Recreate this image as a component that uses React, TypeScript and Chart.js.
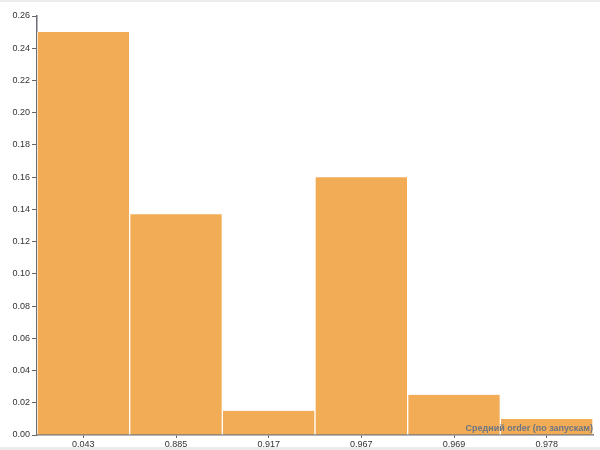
import React, { useEffect, useRef } from "react";
import { Chart, registerables } from "chart.js";

Chart.register(...registerables);

const categories = ["0.043", "0.885", "0.917", "0.967", "0.969", "0.978"];
const shares = [0.25, 0.137, 0.015, 0.16, 0.025, 0.01];
const yTicks = [0, 0.02, 0.04, 0.06, 0.08, 0.1, 0.12, 0.14, 0.16, 0.18, 0.2, 0.22, 0.24, 0.26];
const xTitle = "Средний order (по запускам)";

const innerTitle = {
  id: "innerTitle",
  afterDatasetsDraw(chart: any) {
    const { ctx, chartArea } = chart;
    ctx.save();
    ctx.font = "bold 9px 'Liberation Sans', Arial, sans-serif";
    ctx.fillStyle = "#6b7585";
    ctx.textAlign = "right";
    ctx.textBaseline = "bottom";
    ctx.fillText(xTitle, chartArea.right, chartArea.bottom - 2);
    ctx.restore();
  },
};

export default function App() {
  const ref = useRef<HTMLCanvasElement>(null);
  useEffect(() => {
    if (!ref.current) return;
    const font = { family: "'Liberation Sans', Arial, sans-serif", size: 9 };
    const chart = new Chart(ref.current, {
      type: "bar",
      data: {
        labels: categories,
        datasets: [
          {
            data: shares,
            backgroundColor: "#f2ac56",
            borderColor: "#ffffff",
            borderWidth: { left: 1, right: 1, top: 0, bottom: 0 } as any,
            borderSkipped: false,
            barPercentage: 1,
            categoryPercentage: 1,
          },
        ],
      },
      options: {
        animation: false,
        responsive: false,
        maintainAspectRatio: false,
        layout: { padding: { top: 16, right: 7, left: 0, bottom: 0 } },
        plugins: { legend: { display: false }, tooltip: { enabled: false } },
        scales: {
          x: {
            grid: {
              offset: false,
              drawOnChartArea: false,
              drawTicks: true,
              tickLength: 3,
              color: "#666",
            },
            border: { color: "#6b6f76", width: 1.5 },
            ticks: { font, color: "#333", padding: 1, maxRotation: 0 },
            afterFit: (s: any) => {
              s.height = 15;
            },
          },
          y: {
            min: 0,
            max: 0.26,
            afterBuildTicks: (s: any) => {
              s.ticks = yTicks.map((v) => ({ value: v }));
            },
            grid: {
              drawOnChartArea: false,
              drawTicks: true,
              tickLength: 5,
              color: "#666",
            },
            border: { color: "#6b6f76", width: 1.5 },
            ticks: {
              font,
              color: "#333",
              padding: 2,
              callback: (v: any) => Number(v).toFixed(2),
            },
            afterFit: (s: any) => {
              s.width = 37;
            },
          },
        },
      },
      plugins: [innerTitle],
    });
    return () => chart.destroy();
  }, []);
  return (
    <div
      style={{
        position: "absolute",
        left: 0,
        top: 0,
        width: 600,
        height: 450,
        background: "#fff",
      }}
    >
      <div style={{ position: "absolute", left: 0, top: 0, width: 600, height: 2, background: "#ececec" }} />
      <canvas ref={ref} width={600} height={450} style={{ display: "block" }} />
      <div style={{ position: "absolute", left: 0, top: 447, width: 600, height: 3, background: "#ececec" }} />
    </div>
  );
}
